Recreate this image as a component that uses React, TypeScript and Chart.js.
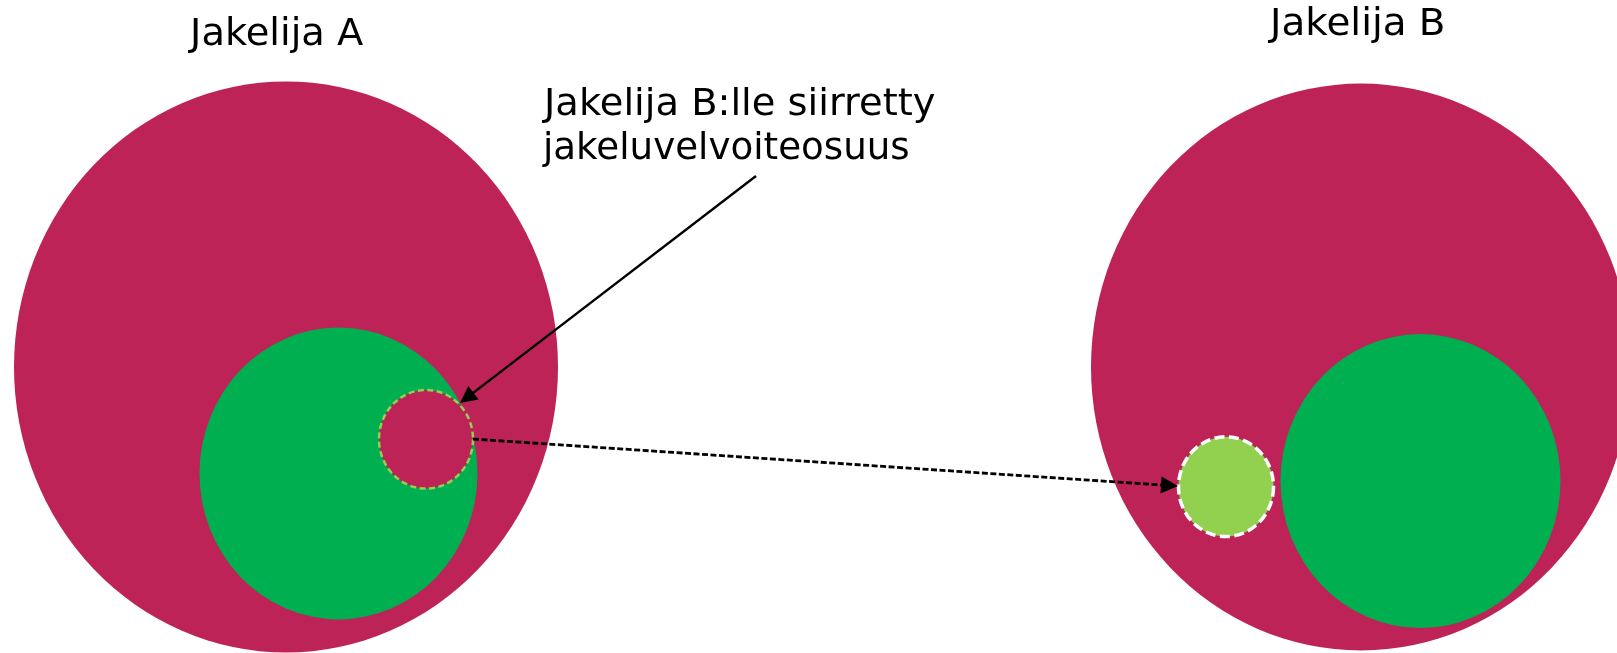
import { useEffect, useRef } from "react";
import { Chart, registerables } from "chart.js";

Chart.register(...registerables);

// ---- data (diagram units: x in chart units, y in chart units, radius in x units) ----
const circleNames = [
  "Jakelija A",
  "Jakelija A – jakeluvelvoite",
  "Siirretty osuus (A)",
  "Jakelija B",
  "Jakelija B – jakeluvelvoite",
  "Siirretty osuus (B)",
];
const circleX = [286, 338.5, 426, 1361, 1420.5, 1226];
const circleY = [349.6, 451, 418.4, 349.6, 458.2, 463.6];
const circleR = [272, 139, 47, 270, 140, 47.5];

const arrowFromX = [756, 473];
const arrowFromY = [167.6, 418.2];
const arrowToX = [460, 1178];
const arrowToY = [383.9, 463];

const textLines = ["Jakelija A", "Jakelija B", "Jakelija B:lle siirretty", "jakeluvelvoiteosuus"];
const textX = [188, 1268, 542, 542];
const textY = [42.9, 33.3, 109.1, 151.2];

// ---- styles ----
const circleFill = ["#BD2357", "#00AF50", "#BD2357", "#BD2357", "#00AF50", "#92D050"];
const circleStroke = [null, null, "#92D050", null, null, "#FFFFFF"];
const circleStrokeWidth = [0, 0, 2.5, 0, 0, 3.5];
const circleDash = [[], [], [6, 3.5], [], [], [10, 4.5]];
const arrowDash = [[], [6, 2.5]];
const arrowWidth = [2.4, 2.8];
const textSize = [37, 37, 38, 38];
const textInkWidth = [175, 175, 393, 366];

const diagramPlugin = {
  id: "diagram",
  afterDatasetsDraw(chart: any) {
    const ctx: CanvasRenderingContext2D = chart.ctx;
    const xs = chart.scales.x;
    const ys = chart.scales.y;
    ctx.save();
    // circles
    chart.data.datasets.forEach((ds: any) => {
      if (ds.kind !== "circle") return;
      const p = ds.data[0];
      const cx = xs.getPixelForValue(p.x);
      const cy = ys.getPixelForValue(p.y);
      const rx = Math.abs(xs.getPixelForValue(p.x + p.r) - cx);
      const ry = Math.abs(ys.getPixelForValue(p.y + p.r) - cy);
      ctx.beginPath();
      ctx.ellipse(cx, cy, rx, ry, 0, 0, Math.PI * 2);
      ctx.fillStyle = ds.fillColor;
      ctx.fill();
      if (ds.strokeColor) {
        ctx.setLineDash(ds.dash);
        ctx.lineWidth = ds.strokeWidth;
        ctx.strokeStyle = ds.strokeColor;
        ctx.stroke();
        ctx.setLineDash([]);
      }
    });
    // arrows
    chart.data.datasets.forEach((ds: any) => {
      if (ds.kind !== "arrow") return;
      const a = ds.data[0];
      const b = ds.data[1];
      const x1 = xs.getPixelForValue(a.x);
      const y1 = ys.getPixelForValue(a.y);
      const x2 = xs.getPixelForValue(b.x);
      const y2 = ys.getPixelForValue(b.y);
      const ang = Math.atan2(y2 - y1, x2 - x1);
      const headLen = 17;
      const headHalf = 8.5;
      const bx = x2 - headLen * Math.cos(ang);
      const by = y2 - headLen * Math.sin(ang);
      ctx.beginPath();
      ctx.moveTo(x1, y1);
      ctx.lineTo(bx + 2 * Math.cos(ang), by + 2 * Math.sin(ang));
      ctx.setLineDash(ds.dash);
      ctx.lineWidth = ds.lineW;
      ctx.strokeStyle = "#000";
      ctx.stroke();
      ctx.setLineDash([]);
      ctx.beginPath();
      ctx.moveTo(x2, y2);
      ctx.lineTo(bx + headHalf * Math.sin(ang), by - headHalf * Math.cos(ang));
      ctx.lineTo(bx - headHalf * Math.sin(ang), by + headHalf * Math.cos(ang));
      ctx.closePath();
      ctx.fillStyle = "#000";
      ctx.fill();
    });
    // texts
    textLines.forEach((t, i) => {
      const px = xs.getPixelForValue(textX[i]);
      const py = ys.getPixelForValue(textY[i]);
      ctx.font = `${textSize[i]}px "DejaVu Sans", Verdana, sans-serif`;
      const m = ctx.measureText(t);
      const ink = m.actualBoundingBoxRight + m.actualBoundingBoxLeft || m.width;
      const sx = textInkWidth[i] / ink;
      ctx.save();
      ctx.translate(px, py);
      ctx.scale(sx, 1);
      ctx.fillStyle = "#000";
      ctx.textBaseline = "alphabetic";
      ctx.textAlign = "left";
      ctx.fillText(t, m.actualBoundingBoxLeft || 0, 0);
      ctx.restore();
    });
    ctx.restore();
  },
};

export default function App() {
  const ref = useRef<HTMLCanvasElement | null>(null);
  useEffect(() => {
    document.body.style.margin = "0";
    const canvas = ref.current!;
    const datasets: any[] = [];
    circleNames.forEach((name, i) => {
      datasets.push({
        label: name,
        kind: "circle",
        data: [{ x: circleX[i], y: circleY[i], r: circleR[i] }],
        pointRadius: 0,
        fillColor: circleFill[i],
        strokeColor: circleStroke[i],
        strokeWidth: circleStrokeWidth[i],
        dash: circleDash[i],
      });
    });
    arrowFromX.forEach((_, i) => {
      datasets.push({
        label: "arrow " + (i + 1),
        kind: "arrow",
        data: [
          { x: arrowFromX[i], y: arrowFromY[i] },
          { x: arrowToX[i], y: arrowToY[i] },
        ],
        pointRadius: 0,
        showLine: false,
        dash: arrowDash[i],
        lineW: arrowWidth[i],
      });
    });
    const chart = new Chart(canvas, {
      type: "scatter",
      data: { datasets },
      options: {
        animation: false,
        responsive: false,
        events: [],
        layout: { padding: 0 },
        plugins: { legend: { display: false }, tooltip: { enabled: false }, title: { display: false } },
        scales: {
          x: { type: "linear", min: 0, max: 1617, display: false },
          y: { type: "linear", min: 0, max: 622, reverse: true, display: false },
        },
      },
      plugins: [diagramPlugin],
    } as any);
    return () => chart.destroy();
  }, []);
  return (
    <canvas
      ref={ref}
      width={1617}
      height={653}
      style={{ display: "block", width: 1617, height: 653, background: "#fff" }}
    />
  );
}
